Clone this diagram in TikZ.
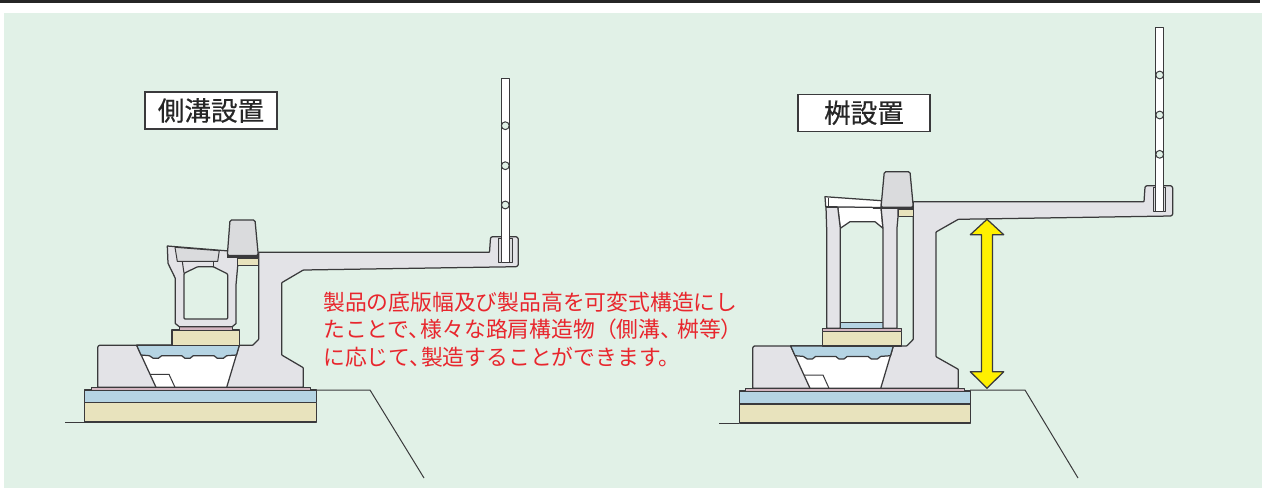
\documentclass[tikz,border=0pt]{standalone}
\usepackage{fontspec}
\setmainfont{Noto Sans CJK JP}
\newfontfamily\titlefont[FakeBold=0.4]{Noto Sans CJK JP}
\definecolor{bgg}{HTML}{E1F1E7}
\definecolor{edge}{HTML}{3A3A3C}
\definecolor{bodyg}{HTML}{E3E3E7}
\definecolor{lidg}{HTML}{DADBDD}
\definecolor{tanc}{HTML}{E8E3BD}
\definecolor{bluec}{HTML}{B5D4E3}
\definecolor{mauve}{HTML}{D2B4BF}
\definecolor{redt}{HTML}{E8262D}
\definecolor{yel}{HTML}{FFF000}
\tikzset{
  part/.style={draw=edge,line width=1.25pt,line join=round},
  thin part/.style={draw=edge,line width=1pt,line join=round},
  railpost/.style={part,fill=white},
  railhole/.style={draw=edge,line width=1pt,fill=bgg},
  title box/.style={draw=edge,line width=1.2pt,fill=white,inner sep=0pt,font=\titlefont\fontsize{26.6}{27}\selectfont,text=black!85,anchor=center},
  redline/.style={anchor=west,inner sep=0pt,text=redt,font=\fontsize{21.8}{22}\selectfont},
}
\begin{document}
\begin{tikzpicture}[x=1pt,y=-1pt]
\useasboundingbox (0,0) rectangle (1264,488);
\fill[white] (0,0) rectangle (1264,488);
\fill[black!85] (0,0) rectangle (1259.5,3);
\fill[bgg] (4,12.5) rectangle (1262,488);

% ---- left figure
\draw[edge,line width=1pt] (65,422) -- (85,422);
\draw[edge,line width=1pt] (316,390) -- (370,390) -- (424,478);
\draw[part,fill=tanc] (84.7,402.7) rectangle (316.7,422);
\draw[part,fill=bluec] (84.7,390) rectangle (316.7,402.7);
\draw[thin part,fill=mauve] (91.3,387.3) rectangle (310,390);
% body
\draw[part,fill=bodyg,rounded corners=0.6pt] (97.7,387.3) -- (97.7,347) -- (99,345.3) -- (252.7,345.3) -- (258.7,339.3) -- (258.7,252.3) -- (489.5,252.3) -- (490.5,238) -- (492,236.7) -- (516.5,236.7) -- (518.3,238.5) -- (518.3,265) -- (516.5,266.7) -- (303.3,270) -- (281.7,282.7) -- (281.7,355) -- (303.3,367.7) -- (303.3,387.3) -- cycle;
% trench
\draw[part,fill=white] (136.7,345.3) -- (239.3,345.3) -- (226.7,387.3) -- (156,387.3) -- cycle;
\draw[part,fill=bluec] (136.7,345.3) -- (239.3,345.3) -- (236.5,355) -- (226.7,355.7) -- (223.3,358.3) -- (217.3,358.3) -- (214,355.7) -- (193.3,355.7) -- (190,358.3) -- (185,358.3) -- (181.7,355.7) -- (161.7,355.7) -- (158.3,358.3) -- (153.3,358.3) -- (149.3,355.7) -- (141,355) -- cycle;
\draw[thin part] (150,374.3) -- (169,374.3) -- (175,387.3);
% gutter
\draw[part,fill=tanc] (172,330) rectangle (239.3,345.3);
\draw[thin part,fill=mauve] (179.3,326.7) rectangle (232.3,330);
\draw[part,fill=bodyg] (167.3,246) -- (229,251) -- (237.7,258) -- (237.7,266) -- (236,285) -- (236,323.5) -- (232.3,326.7) -- (179.3,326.7) -- (175.3,323.5) -- (175.3,278.3) -- (168,263.3) -- cycle;
\draw[part,fill=bgg,rounded corners=1pt] (184,273.3) -- (197.7,266.7) -- (213.3,266.7) -- (227.7,274) -- (227.7,319) -- (184,319) -- cycle;
\draw[thin part,fill=lidg] (175,247.3) -- (219.3,250.7) -- (217.7,261.3) -- (177.3,261.3) -- cycle;
\draw[thin part] (182.3,261.3) -- (184,273.3);
\draw[thin part] (213.3,261.3) -- (213.3,266.7);
% curb
\draw[thin part,fill=tanc] (237.7,258) rectangle (258.7,265);
\draw[part,fill=lidg,rounded corners=1.5pt] (227.3,255.5) -- (230,220) -- (255,220) -- (258.3,255.5) -- cycle;
\fill[edge] (226.5,255) rectangle (258.7,257.5);
% rail
\draw[thin part,fill=lidg] (498.7,238) rectangle (512,262.7);
\draw[railpost] (501.3,78.3) rectangle (509.3,262.7);
\draw[railhole] (505.3,125.7) circle[radius=3.9];
\draw[railhole] (505.3,165.7) circle[radius=3.9];
\draw[railhole] (505.3,205) circle[radius=3.9];

% ---- right figure
\draw[edge,line width=1pt] (719,423) -- (739.3,423);
\draw[edge,line width=1pt] (970,390) -- (1025,390) -- (1078,478);
\draw[part,fill=tanc] (739.3,404) rectangle (970.7,423);
\draw[part,fill=bluec] (739.3,391) rectangle (970.7,404);
\draw[thin part,fill=mauve] (745.3,388.3) rectangle (964.3,391);
% body
\draw[part,fill=bodyg,rounded corners=0.6pt] (752.7,388.3) -- (752.7,347.7) -- (754,346) -- (906.7,346) -- (913.3,339.3) -- (913.3,201.7) -- (1144,201.7) -- (1145,187) -- (1146.5,185.7) -- (1171,185.7) -- (1172.7,187.5) -- (1172.7,214.5) -- (1171,216) -- (958.3,219.3) -- (936,232) -- (936,356.7) -- (958.3,369.3) -- (958.3,388.3) -- cycle;
% trench
\draw[part,fill=white] (790.7,346) -- (893.3,346) -- (880.7,388.3) -- (810,388.3) -- cycle;
\draw[part,fill=bluec] (790.7,346) -- (893.3,346) -- (890.5,355.7) -- (880.7,356.4) -- (877.3,359) -- (871.3,359) -- (868,356.4) -- (847.3,356.4) -- (844,359) -- (839,359) -- (835.7,356.4) -- (815.7,356.4) -- (812.3,359) -- (807.3,359) -- (803.3,356.4) -- (795,355.7) -- cycle;
\draw[thin part] (804,375) -- (823,375) -- (829,388.3);
% gutter
\draw[part,fill=tanc] (822.3,331.7) rectangle (901.7,346);
\draw[thin part,fill=mauve] (822.3,328.3) rectangle (901.7,331.7);
\draw[thin part,fill=bluec] (840.3,322.7) rectangle (883.3,328.3);
\draw[part,fill=white] (837.7,206.7) -- (881,207) -- (883,228.3) -- (875,221.7) -- (850,221.7) -- (840.3,228.3) -- cycle;
\draw[part,fill=bodyg] (826,206.7) -- (837.7,206.7) -- (840.3,228.3) -- (840.3,328.3) -- (826.7,328.3) -- (826.7,230) -- cycle;
\draw[part,fill=bodyg] (881,207) -- (898,207) -- (898,216.7) -- (897,228) -- (897,328.3) -- (883,328.3) -- (883,228.3) -- cycle;
\draw[part,fill=white] (825,196.7) -- (881.7,200.7) -- (881,207.5) -- (825.7,206.7) -- cycle;
\draw[thin part] (828,198) -- (828,205.5);
\fill[edge] (825.5,205.5) rectangle (837,207.7);
% curb
\draw[thin part,fill=tanc] (898.3,209) rectangle (913,216.7);
\draw[part,fill=lidg,rounded corners=1.5pt] (881,207.3) -- (884.3,171.7) -- (910,171.7) -- (913.3,207.3) -- cycle;
\fill[edge] (872.5,207) rectangle (913.3,209.4);
% rail
\draw[thin part,fill=lidg] (1153.3,187) rectangle (1165.7,211.7);
\draw[railpost] (1155.7,27.3) rectangle (1163.7,211.7);
\draw[railhole] (1159.7,75) circle[radius=3.9];
\draw[railhole] (1159.7,115) circle[radius=3.9];
\draw[railhole] (1159.7,154.3) circle[radius=3.9];
% yellow height arrow
\draw[part,fill=yel] (987,219.3) -- (1003.7,234.7) -- (992.5,234.7) -- (992.5,371.7) -- (1003.7,371.7) -- (987,388.3) -- (970.3,371.7) -- (981.5,371.7) -- (981.5,234.7) -- (970.3,234.7) -- cycle;

% ---- labels
\node[title box,minimum width=132pt,minimum height=37pt] (t1) at (211,110.5) {側溝設置};
\node[title box,minimum width=132pt,minimum height=37pt] (t2) at (864,112.7) {桝設置};
\node[redline] (r1) at (323,302.5) {製品の底版幅及び製品高を可変式構造にし};
\node[redline] (r2) at (323,329.5) {たことで、\kern-10pt 様々な路肩構造物（側溝、\kern-5pt 桝等）};
\node[redline] (r3) at (323,357) {に応じて、\kern-10pt 製造することができます。};
\end{tikzpicture}
\end{document}
